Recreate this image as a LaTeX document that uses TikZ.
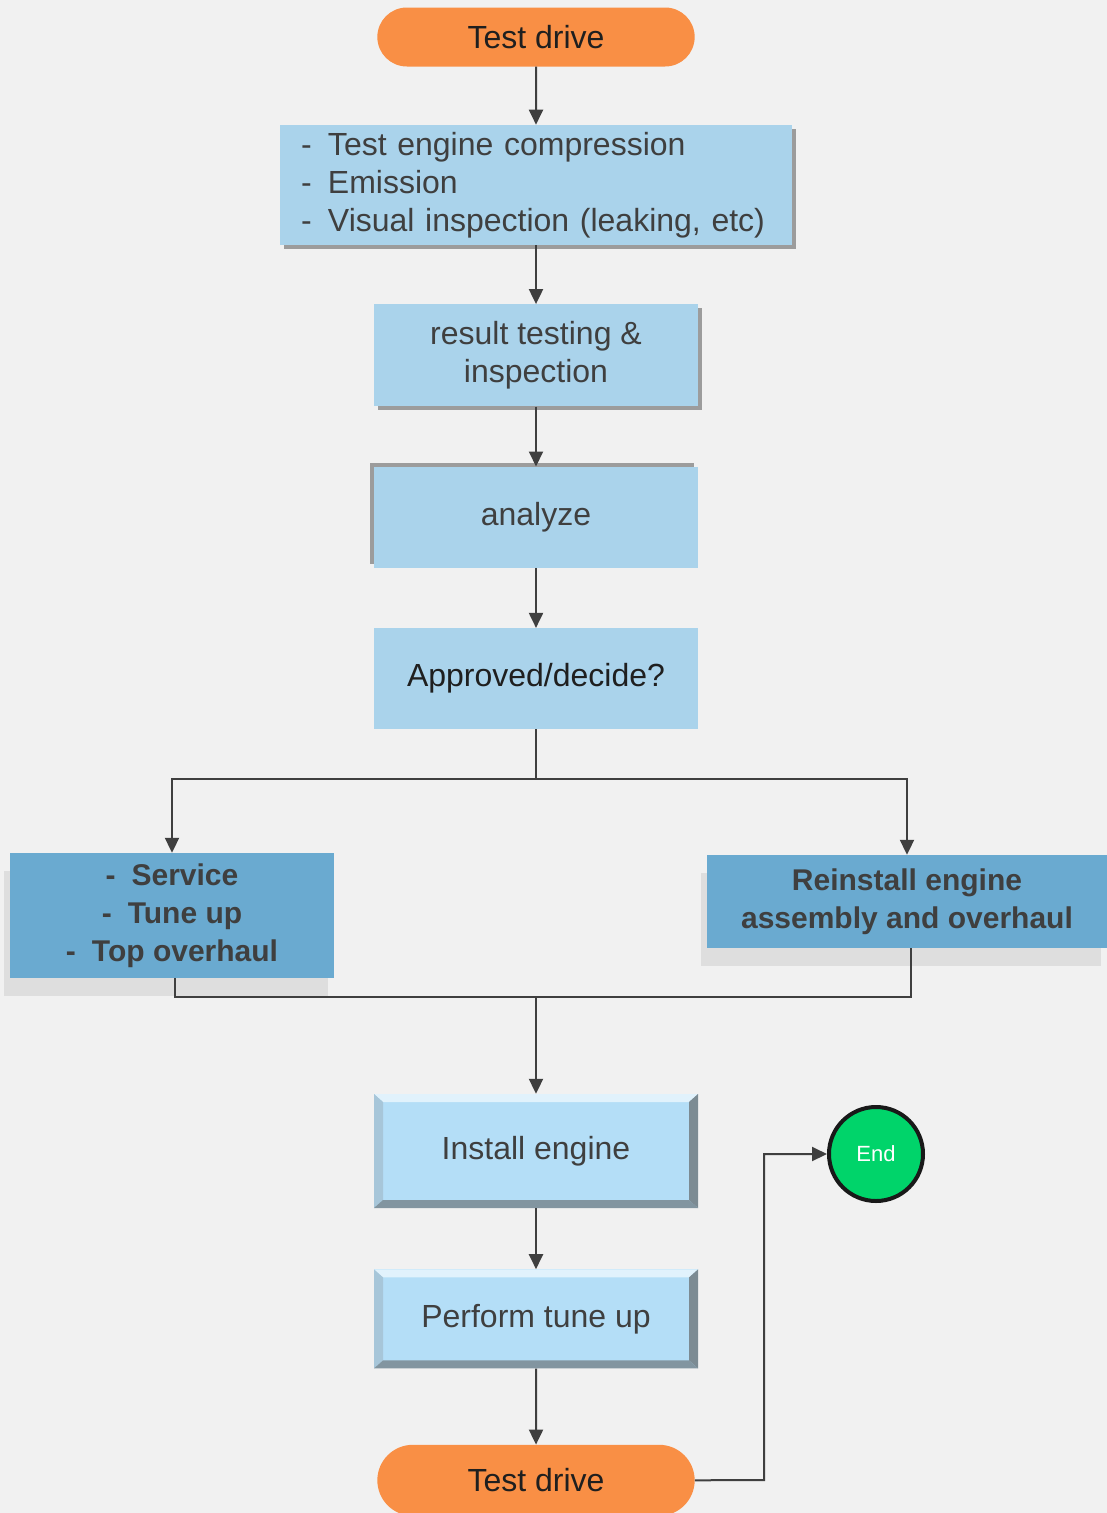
\documentclass[tikz,border=0pt]{standalone}
\usepackage{fontspec}
\setsansfont{Liberation Sans}
\usetikzlibrary{shadows,arrows.meta,positioning,shapes.misc}
\definecolor{paper}{HTML}{F1F1F1}
\definecolor{driveorange}{HTML}{F98F45}
\definecolor{paleblue}{HTML}{AAD3EB}
\definecolor{midblue}{HTML}{6AAAD0}
\definecolor{bevelblue}{HTML}{B4DEF7}
\definecolor{inkgray}{HTML}{3F3F3F}
\definecolor{endgreen}{HTML}{00D46A}
\tikzset{%
      txt/.style={font=\sffamily\fontsize{32}{38}\selectfont},
      drive/.style={rounded rectangle, fill=driveorange, txt, text=black!88, minimum width=324pt, minimum height=59pt},
      task/.style={fill=paleblue, txt, text=inkgray, align=center, minimum width=324pt, minimum height=101pt, inner sep=0pt},
      raised/.style={drop shadow={shadow xshift=4pt, shadow yshift=-4pt, fill=black, opacity=0.35}},
      choice/.style={fill=midblue, txt, font=\sffamily\bfseries\fontsize{30}{38}\selectfont, text=inkgray, align=center, inner sep=0pt,
                     drop shadow={shadow xshift=-6pt, shadow yshift=-18pt, fill=black, opacity=0.08}},
      bevel/.style={fill=bevelblue, txt, text=inkgray, minimum width=324pt, inner sep=0pt,
        path picture={
          \coordinate (nw) at (path picture bounding box.north west);
          \coordinate (ne) at (path picture bounding box.north east);
          \coordinate (sw) at (path picture bounding box.south west);
          \coordinate (se) at (path picture bounding box.south east);
          \fill[bevelblue!40!white] (nw) -- (ne) -- ([shift={(-9pt,-8pt)}]ne) -- ([shift={(9pt,-8pt)}]nw) -- cycle;
          \fill[bevelblue!75!gray] (nw) -- (sw) -- ([shift={(9pt,8pt)}]sw) -- ([shift={(9pt,-8pt)}]nw) -- cycle;
          \fill[bevelblue!45!black!75] (ne) -- (se) -- ([shift={(-9pt,8pt)}]se) -- ([shift={(-9pt,-8pt)}]ne) -- cycle;
          \fill[bevelblue!55!black!80] (sw) -- (se) -- ([shift={(-9pt,8pt)}]se) -- ([shift={(9pt,8pt)}]sw) -- cycle;
        }},
      endnode/.style={circle, fill=endgreen, draw=black!90, line width=4pt, minimum size=94pt, text=white,
                      font=\sffamily\fontsize{22}{26}\selectfont},
      line/.style={draw, line width=2pt, color=inkgray, -{Triangle[length=15pt,width=14pt]}},
      link/.style={draw, line width=2pt, color=inkgray},
    }

\begin{document}
\begin{tikzpicture}[x=1pt, y=-1pt, font=\sffamily]

      \fill[paper] (0,0) rectangle (1107,1513);
      \useasboundingbox (0,0) rectangle (1107,1513);

      % Draw diagram elements
      \node (td1) [drive] at (536,37) {Test drive};
      \node (chk) [task, raised, minimum width=512pt, minimum height=120pt, text width=470pt, align=left, below=58pt of td1]
            {\makebox[27pt][l]{-}Test engine compression\\
             \makebox[27pt][l]{-}Emission\\
             \makebox[27pt][l]{-}Visual inspection (leaking, etc)};
      \node (res) [task, raised, minimum height=102pt, below=59pt of chk] {result testing \&\\inspection};
      \node (ana) [task, drop shadow={shadow xshift=-4pt, shadow yshift=4pt, fill=black, opacity=0.35}, below=60pt of res] {analyze};
      \node (dec) [task, text=black!88, below=60pt of ana] {Approved/decide?};

      \node (svc) [choice, minimum width=324pt, minimum height=125pt] at (172,915.5)
            {-\hspace{16pt}Service\\-\hspace{16pt}Tune up\\-\hspace{16pt}Top overhaul};
      \node (reb) [choice, minimum width=400pt, minimum height=93pt] at (907,901.5)
            {Reinstall engine\\assembly and overhaul};

      \node (inst) [bevel, minimum height=114pt] at (536,1151) {Install engine};
      \node (tune) [bevel, minimum height=99pt, below=61pt of inst] {Perform tune up};
      \node (td2) [drive, minimum height=71pt, below=76pt of tune] {Test drive};
      \node (end) [endnode] at (876,1154) {End};

      \coordinate (split) at (dec.south |- 0,779);
      \coordinate (join) at (inst.north |- 0,997);
      \coordinate (bend) at (764,1480);

      % Draw arrows between elements
      \path [line] (td1) -- (chk);
      \path [line] (chk) -- (res);
      \path [line] (res) -- (ana);
      \path [line] (ana) -- (dec);
      \path [link] (dec.south) -- (split);
      \path [line] (split) -| (svc.north);
      \path [line] (split) -| (reb.north);
      \path [link] ([xshift=3pt]svc.south) |- (join);
      \path [link] ([xshift=4pt]reb.south) |- (join);
      \path [line] (join) -- (inst);
      \path [line] (inst) -- (tune);
      \path [line] (tune) -- (td2);
      \path [line] (td2.east) -- (bend) |- (end.west);

\end{tikzpicture}
\end{document}
